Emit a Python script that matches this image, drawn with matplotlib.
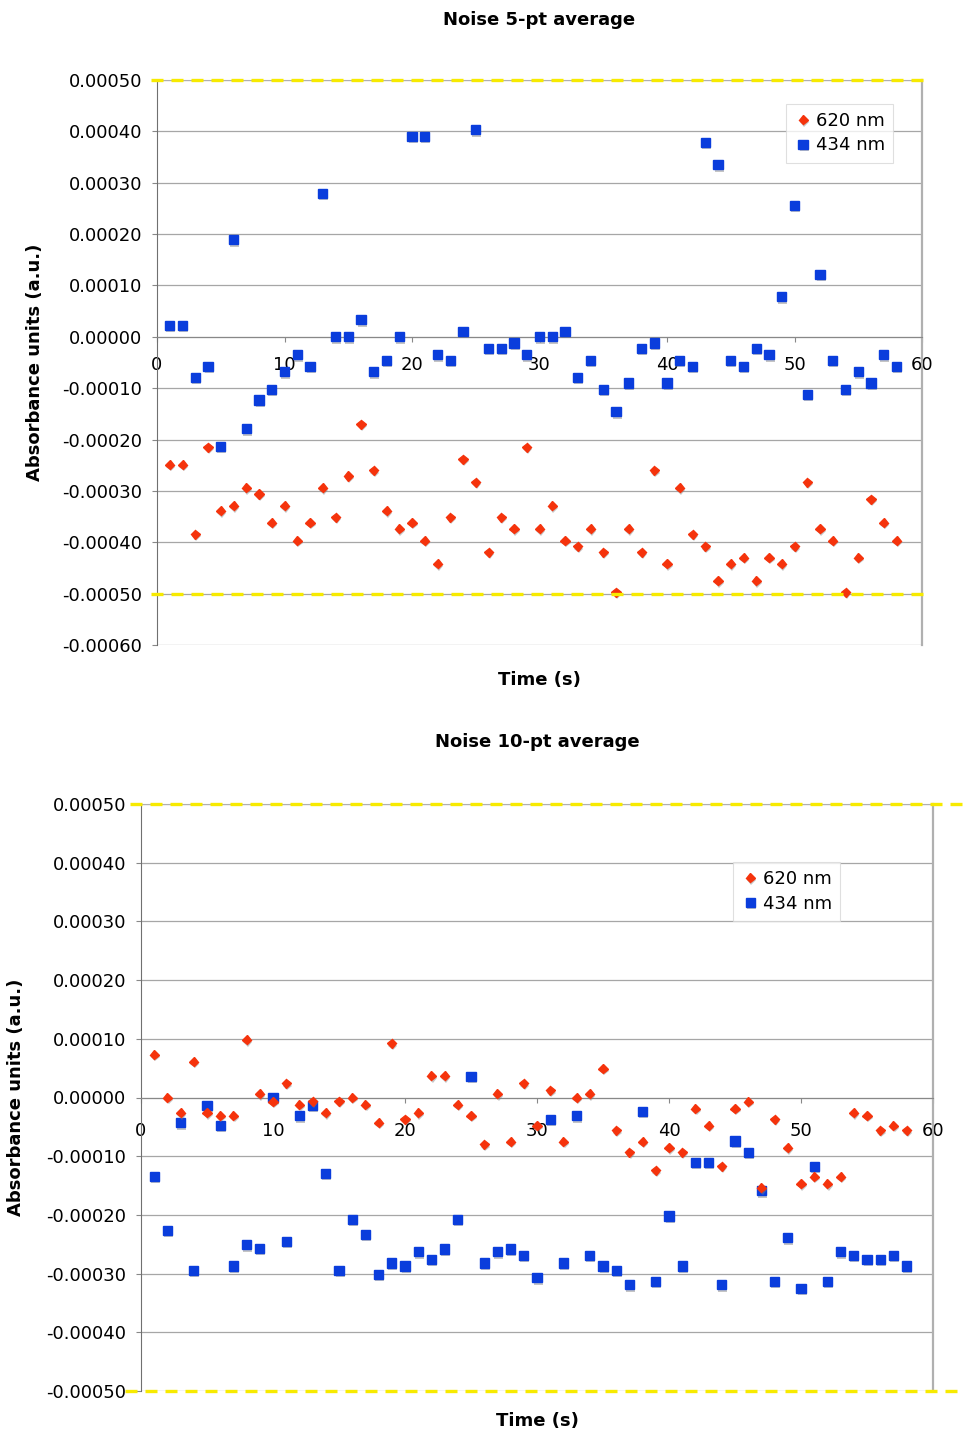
import numpy as np
import matplotlib
matplotlib.use('Agg')
import matplotlib.pyplot as plt
import matplotlib.patheffects as pe
from matplotlib.transforms import blended_transform_factory
from matplotlib.ticker import FormatStrFormatter, MultipleLocator

# time points (s)
time_s = np.arange(1, 59)

# absorbance values in micro-AU (x1e-6)
avg5_620 = [-249, -249, -384, -215, -339, -329, -294, -306, -362, -329,
            -397, -362, -294, -351, -271, -170, -260, -339, -374, -362,
            -397, -442, -351, -238, -283, -419, -351, -374, -215, -374,
            -329, -397, -408, -374, -419, -497, -374, -419, -260, -442,
            -294, -384, -408, -475, -442, -430, -475, -430, -442, -408,
            -283, -374, -397, -497, -430, -316, -362, -397]
avg5_434 = [22, 22, -79, -57, -213, 189, -179, -123, -102, -68,
            -35, -57, 279, 0, 0, 33, -68, -46, 0, 390,
            390, -35, -46, 10, 403, -22, -22, -12, -35, 0,
            0, 10, -79, -46, -102, -146, -90, -22, -12, -90,
            -46, -57, 379, 335, -46, -57, -22, -35, 78, 256,
            -112, 122, -46, -102, -68, -90, -35, -57]

avg10_620 = [73, 0, -26, 61, -26, -31, -31, 98, 6, -7,
             24, -12, -6, -26, -6, 0, -12, -43, 92, -37,
             -26, 37, 37, -12, -31, -80, 6, -75, 24, -48,
             12, -75, 0, 6, 49, -56, -93, -75, -124, -86,
             -93, -19, -48, -117, -19, -7, -154, -37, -86, -147,
             -135, -147, -135, -26, -31, -56, -48, -56]
avg10_434 = [-134, -226, -43, -295, -13, -48, -287, -251, -257, 0,
             -245, -31, -13, -129, -295, -208, -233, -301, -282, -287,
             -263, -276, -258, -208, 36, -282, -263, -258, -269, -307,
             -37, -282, -31, -269, -287, -295, -319, -24, -313, -202,
             -287, -111, -111, -319, -74, -93, -159, -313, -239, -325,
             -117, -313, -263, -269, -276, -276, -269, -287]

RED = '#f5330c'
BLUE = '#0a3ddc'
YEL = '#f7ea00'
GRID = '#a6a6a6'

shadow = [pe.SimplePatchShadow(offset=(0.8, -1.6), shadow_rgbFace='#808080', alpha=0.45),
          pe.Normal()]

fig = plt.figure(figsize=(9.66, 14.35), dpi=100)


def panel(rect, t, red, blue, title, ymin, xpad, ylab_x, leg_anchor,
          yel_top, yel_bot):
    ax = fig.add_axes(rect)
    red = np.array(red) * 1e-6
    blue = np.array(blue) * 1e-6
    ax.plot(t, red, ls='none', marker='D', ms=4.6, color=RED, mec=RED,
            label='620 nm', path_effects=shadow, zorder=4)
    ax.plot(t, blue, ls='none', marker='s', ms=6.6, color=BLUE, mec=BLUE,
            label='434 nm', path_effects=shadow, zorder=3)

    ax.set_xlim(0, 60)
    ax.set_ylim(ymin, 0.0005)
    ax.xaxis.set_major_locator(MultipleLocator(10))
    ax.set_yticks(np.arange(ymin, 0.00051, 0.0001))
    ax.yaxis.set_major_formatter(FormatStrFormatter('%.5f'))
    ax.grid(axis='y', color=GRID, lw=0.9)
    ax.set_axisbelow(True)

    ax.spines['bottom'].set_position(('data', 0))
    ax.spines['bottom'].set_color('#888888')
    ax.spines['left'].set_color('#707070')
    ax.spines['right'].set_color('#b0b0b0')
    ax.spines['right'].set_linewidth(1.6)
    ax.spines['top'].set_color('#b0b0b0')
    ax.tick_params(axis='x', direction='out', length=3.5, color='#888888',
                   labelsize=13, pad=xpad)
    ax.tick_params(axis='y', direction='out', length=3.5, color='#888888',
                   labelsize=13, pad=7)

    ax.text(0.5, 1.106, title, transform=ax.transAxes, ha='center',
            va='center', fontsize=13, fontweight='bold')
    ax.set_xlabel('Time (s)', fontsize=13, fontweight='bold')
    ax.set_ylabel('Absorbance units (a.u.)', fontsize=13, fontweight='bold')
    ax.yaxis.set_label_coords(ylab_x, 0.5)

    tr = blended_transform_factory(ax.transAxes, ax.transData)
    for (x0, x1), yv in ((yel_top, 0.0005), (yel_bot, -0.0005)):
        ax.plot([x0, x1], [yv, yv], transform=tr, color=YEL, lw=2.4,
                dashes=(3.6, 2.4), clip_on=False, zorder=5,
                solid_capstyle='butt', dash_capstyle='butt')

    leg = ax.legend(loc='upper right', bbox_to_anchor=leg_anchor,
                    fontsize=13, numpoints=1, frameon=True, fancybox=False,
                    borderpad=0.45, handletextpad=0.2, handlelength=1.0,
                    labelspacing=0.35, borderaxespad=0)
    leg.get_frame().set_edgecolor('#d8d8d8')
    leg.get_frame().set_linewidth(0.8)
    return ax


ax1 = panel([157 / 966, 1 - 645 / 1435, 765 / 966, 565 / 1435],
            time_s, avg5_620, avg5_434, 'Noise 5-pt average', -0.0006,
            10, -0.148, (0.962, 0.9575), (-0.008, 1.012), (-0.008, 1.012))
ax1.xaxis.set_label_coords(0.5, -0.046)

ax2 = panel([141 / 966, 1 - 1391 / 1435, 792 / 966, 587 / 1435],
            time_s, avg10_620, avg10_434, 'Noise 10-pt average', -0.0005,
            14, -0.146, (0.8826, 0.901), (-0.014, 1.05), (-0.02, 1.034))
ax2.xaxis.set_label_coords(0.5, -0.036)

fig.savefig('out.png', dpi=100)
